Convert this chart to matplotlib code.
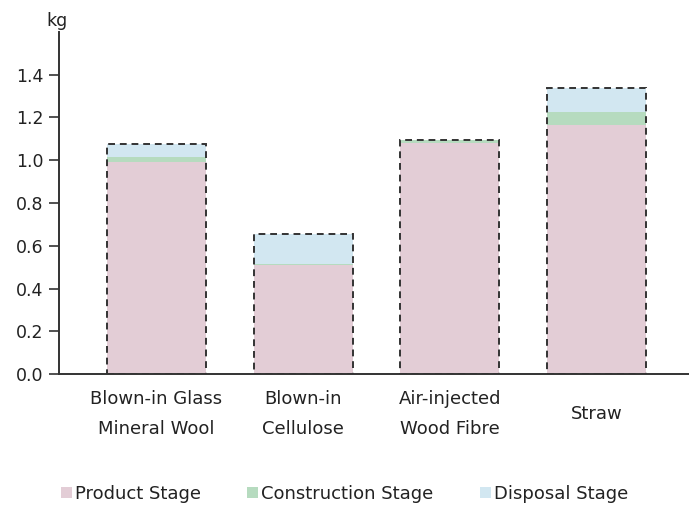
import numpy as np
import matplotlib.pyplot as plt
from matplotlib.patches import Patch

plt.rcParams['font.family'] = ['DejaVu Sans']

# material categories and stage contributions (kg)
materials = ['Blown-in Glass\nMineral Wool', 'Blown-in\nCellulose',
             'Air-injected\nWood Fibre', 'Straw']
product = [0.99, 0.508, 1.08, 1.165]
construction = [0.025, 0.006, 0.014, 0.06]
disposal = [0.06, 0.141, 0.003, 0.115]

stage_names = ['Product Stage', 'Construction Stage', 'Disposal Stage']
stage_colors = ['#e3cdd6', '#b6dbbf', '#d2e7f1']

x = np.arange(len(materials))
width = 0.675
product = np.array(product)
construction = np.array(construction)
disposal = np.array(disposal)
total = product + construction + disposal

fig = plt.figure(figsize=(6.89, 5.05), dpi=100)
ax = fig.add_axes([59 / 689, 131 / 505, (689 - 59) / 689, (374 - 32) / 505])

ax.bar(x, product, width, color=stage_colors[0], linewidth=0)
ax.bar(x, construction, width, bottom=product, color=stage_colors[1], linewidth=0)
ax.bar(x, disposal, width, bottom=product + construction, color=stage_colors[2], linewidth=0)
# dashed outline around the full stack
ax.bar(x, total, width, fill=False, edgecolor='#333333', linestyle=(0, (3.5, 2.5)),
       linewidth=1.4, zorder=3)

ax.set_xlim(-0.663, 3.63)
ax.set_ylim(0, 1.6)
ax.set_yticks(np.arange(0, 1.41, 0.2))
ax.set_yticklabels([f'{v:.1f}' for v in np.arange(0, 1.41, 0.2)])
ax.set_xticks(x)
ax.set_xticklabels(materials, linespacing=1.85, va='center')
ax.tick_params(axis='x', length=0, pad=28.5, labelsize=13, colors='#222222')
ax.tick_params(axis='y', length=7, width=1.2, pad=4, labelsize=12.5,
               colors='#333333', labelcolor='#222222')
for s in ['top', 'right']:
    ax.spines[s].set_visible(False)
for s in ['left', 'bottom']:
    ax.spines[s].set_linewidth(1.4)
    ax.spines[s].set_color('#333333')

ax.text(-0.003, 1.005, 'kg', transform=ax.transAxes, ha='center', va='bottom',
        fontsize=12.5, color='#222222')

handles = [Patch(facecolor=c, edgecolor='none') for c in stage_colors]
fig.legend(handles, stage_names, loc='center', bbox_to_anchor=(0.5, 11 / 505),
           ncol=3, frameon=False, fontsize=13, handlelength=0.6, handleheight=0.6,
           handletextpad=0.15, columnspacing=2.6, labelcolor='#222222')

fig.savefig('out.png', dpi=100)
